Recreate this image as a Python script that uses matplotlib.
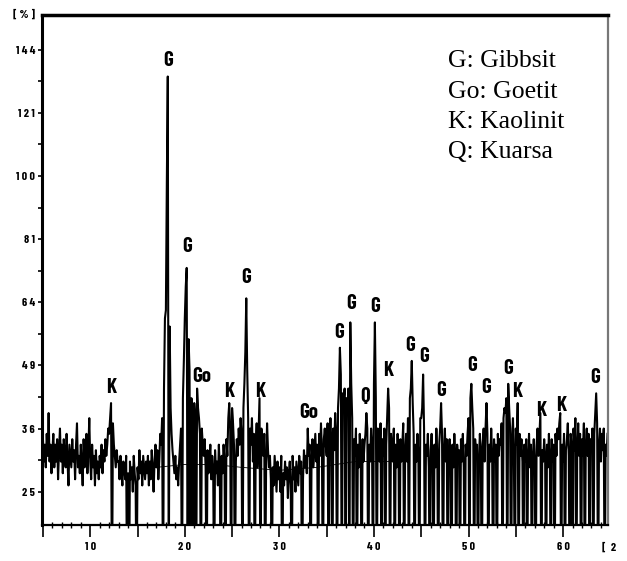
import numpy as np
import matplotlib
matplotlib.use("Agg")
import matplotlib.pyplot as plt

# XRD scan, 2-theta from 5.0 deg in 0.1 deg steps, one row per degree
START = 5.0
STEP = 0.1
counts = [
    34, 30, 33, 29, 35, 31, 39, 30, 33, 28,   # 5
    32, 35, 29, 33, 30, 34, 27, 32, 36, 30,   # 6
    33, 28, 34, 31, 29, 35, 30, 26, 33, 31,   # 7
    29, 34, 30, 32, 27, 33, 37, 29, 31, 28,   # 8
    33, 30, 26, 34, 29, 31, 35, 28, 32, 38,   # 9
    30, 27, 33, 29, 31, 26, 32, 28, 30, 27,   # 10
    31, 29, 33, 28, 32, 30, 34, 31, 33, 36,   # 11
    35, 38, 41, 10, 37, 33, 31, 29, 32, 30,   # 12
    30, 27, 31, 28, 26, 30, 29, 27, 31, 10,   # 13
    28, 10, 30, 27, 29, 25, 31, 28, 26, 10,   # 14
    29, 27, 32, 28, 30, 26, 31, 29, 27, 30,   # 15
    28, 31, 26, 30, 27, 32, 29, 25, 30, 33,   # 16
    29, 32, 27, 30, 35, 33, 38, 10, 44, 60,   # 17
    62, 98, 134, 10, 58, 40, 35, 32, 30, 28,  # 18
    31, 27, 29, 26, 30, 33, 36, 10, 42, 50,   # 19
    60, 68, 73, 10, 55, 48, 10, 42, 40, 10,   # 20
    41, 38, 10, 44, 40, 38, 35, 10, 36, 33,   # 21
    31, 34, 29, 10, 32, 28, 30, 33, 27, 31,   # 22
    29, 10, 32, 28, 30, 26, 33, 29, 10, 31,   # 23
    28, 33, 30, 10, 34, 31, 38, 41, 36, 10,   # 24
    40, 37, 33, 10, 30, 34, 31, 36, 33, 38,   # 25
    35, 10, 40, 45, 52, 65, 48, 38, 10, 36,   # 26
    33, 38, 30, 35, 10, 33, 37, 29, 35, 42,   # 27
    10, 36, 33, 31, 35, 10, 30, 37, 32, 29,   # 28
    31, 27, 10, 29, 26, 31, 28, 25, 30, 27,   # 29
    29, 25, 31, 10, 28, 26, 30, 27, 29, 24,   # 30
    28, 30, 26, 10, 31, 27, 29, 25, 30, 28,   # 31
    26, 31, 28, 30, 10, 27, 32, 29, 31, 28,   # 32
    36, 31, 33, 10, 30, 34, 29, 32, 35, 30,   # 33
    33, 10, 35, 31, 37, 32, 10, 34, 36, 33,   # 34
    31, 37, 10, 34, 38, 33, 10, 36, 32, 39,   # 35
    35, 10, 40, 44, 53, 47, 10, 43, 41, 44,   # 36
    10, 42, 40, 44, 10, 59, 45, 38, 10, 34,   # 37
    31, 36, 10, 33, 29, 35, 31, 10, 34, 30,   # 38
    33, 35, 39, 36, 10, 33, 30, 36, 33, 10,   # 39
    45, 59, 42, 10, 36, 33, 30, 37, 10, 34,   # 40
    31, 36, 10, 33, 38, 44, 40, 10, 35, 32,   # 41
    30, 36, 10, 33, 29, 35, 31, 10, 34, 30,   # 42
    33, 37, 10, 32, 35, 30, 38, 10, 42, 44,   # 43
    50, 41, 35, 10, 33, 30, 35, 31, 10, 38,   # 44
    38, 40, 47, 36, 10, 33, 31, 35, 29, 10,   # 45
    32, 35, 30, 10, 33, 29, 36, 31, 10, 33,   # 46
    36, 41, 35, 10, 32, 36, 30, 34, 10, 31,   # 47
    34, 30, 10, 33, 29, 35, 31, 10, 33, 30,   # 48
    32, 10, 34, 30, 35, 29, 10, 33, 31, 35,   # 49
    38, 10, 42, 45, 40, 36, 10, 34, 31, 33,   # 50
    10, 30, 35, 32, 10, 33, 36, 30, 36, 41,   # 51
    35, 10, 33, 30, 36, 31, 10, 34, 30, 33,   # 52
    10, 35, 31, 34, 33, 37, 10, 38, 40, 39,   # 53
    42, 10, 45, 40, 36, 10, 34, 38, 31, 10,   # 54
    36, 33, 41, 10, 35, 31, 34, 30, 10, 33,   # 55
    30, 34, 10, 31, 35, 29, 33, 10, 31, 34,   # 56
    30, 10, 33, 36, 31, 35, 39, 10, 32, 30,   # 57
    34, 31, 10, 33, 29, 35, 31, 10, 34, 30,   # 58
    33, 10, 35, 31, 36, 34, 37, 39, 10, 33,   # 59
    30, 35, 10, 32, 34, 37, 31, 10, 35, 33,   # 60
    10, 36, 32, 38, 10, 33, 37, 31, 35, 10,   # 61
    34, 31, 37, 10, 33, 36, 31, 35, 10, 34,   # 62
    32, 36, 10, 35, 39, 43, 37, 10, 33, 36,   # 63
    30, 35, 32, 36, 10, 33, 31, 35,           # 64
]

# thin background curve under the low-angle part
bg_theta = [17, 20, 23, 26, 30, 34, 38, 42]
bg_counts = [29, 29.5, 29.5, 29, 28.5, 29, 30, 30]

peak_names = ["K", "G", "G", "Go", "K", "G", "K", "Go", "G", "G", "Q", "G",
              "K", "G", "G", "G", "G", "G", "G", "K", "K", "K", "G"]
peak_theta = [12.2, 18.2, 20.2, 21.75, 24.7, 26.5, 28.0, 33.1, 36.3, 37.6, 39.1, 40.1,
              41.5, 43.85, 45.3, 47.15, 50.4, 51.9, 54.15, 55.2, 57.7, 59.8, 63.4]
peak_label_y = [44.3, 140, 79, 46.5, 43.3, 70.4, 43.3, 39.1, 56.6, 63.6, 42.3, 62.9,
                47.9, 53.5, 50.9, 43.5, 49, 44.3, 48.3, 43.3, 39.5, 40.5, 46.3]

legend_lines = ["G: Gibbsit", "Go: Goetit", "K: Kaolinit", "Q: Kuarsa"]

y_major = [25, 36, 49, 64, 81, 100, 121, 144]
y_minor = [30.25, 42.25, 56.25, 72.25, 90.25, 110.25, 132.25]
x_major = [5, 10, 15, 20, 25, 30, 35, 40, 45, 50, 55, 60]

theta = START + STEP * np.arange(len(counts))

narrow = ["Barlow Condensed", "Liberation Sans Narrow", "DejaVu Sans"]
tick_font = dict(family=narrow, weight="bold", size=8.5)

fig = plt.figure(figsize=(6.27, 5.61), dpi=100)
ax = fig.add_axes([42 / 627, 1 - 525 / 561, 566 / 627, 510 / 561])

ax.plot(theta, counts, color="black", lw=1.5)
ax.plot(bg_theta, bg_counts, color="black", lw=0.6)

ax.set_yscale("function", functions=(np.sqrt, np.square))
ax.set_ylim(20, 157.5)
ax.set_xlim(4.9, 64.75)

ax.set_yticks(y_major)
ax.set_yticklabels([" ".join(str(v)) for v in y_major], **tick_font)
ax.set_yticks(y_minor, minor=True)
ax.set_xticks(x_major)
ax.set_xticklabels([" ".join(str(v)) if v % 10 == 0 else "" for v in x_major], **tick_font)
ax.set_xticks(np.arange(5, 65, 1), minor=True)

ax.tick_params(axis="x", which="major", direction="out", length=8.6, width=1.2, pad=4)
ax.tick_params(axis="x", which="minor", direction="inout", length=4.5, width=1.0)
ax.tick_params(axis="y", which="both", direction="out", length=3, width=1.2, pad=2)

ax.spines["left"].set_linewidth(2.2)
ax.spines["top"].set_linewidth(2.5)
ax.spines["bottom"].set_linewidth(1.6)
ax.spines["right"].set_linewidth(1.6)
ax.spines["right"].set_color("#777777")

for name, t, y in zip(peak_names, peak_theta, peak_label_y):
    ax.text(t, y, name, ha="center", va="center", fontsize=15, weight="bold",
            family=narrow)

for i, line in enumerate(legend_lines):
    fig.text(448 / 627, 1 - (67 + 30.5 * i) / 561, line, ha="left", va="baseline",
             fontsize=18.5, family=["Liberation Serif", "DejaVu Serif"])

fig.text(24 / 627, 1 - 15 / 561, "[ % ]", ha="center", va="center", **tick_font)
fig.text(602 / 627, 1 - 548 / 561, "[  2", ha="left", va="center", **tick_font)

fig.savefig("out.png", dpi=100)
